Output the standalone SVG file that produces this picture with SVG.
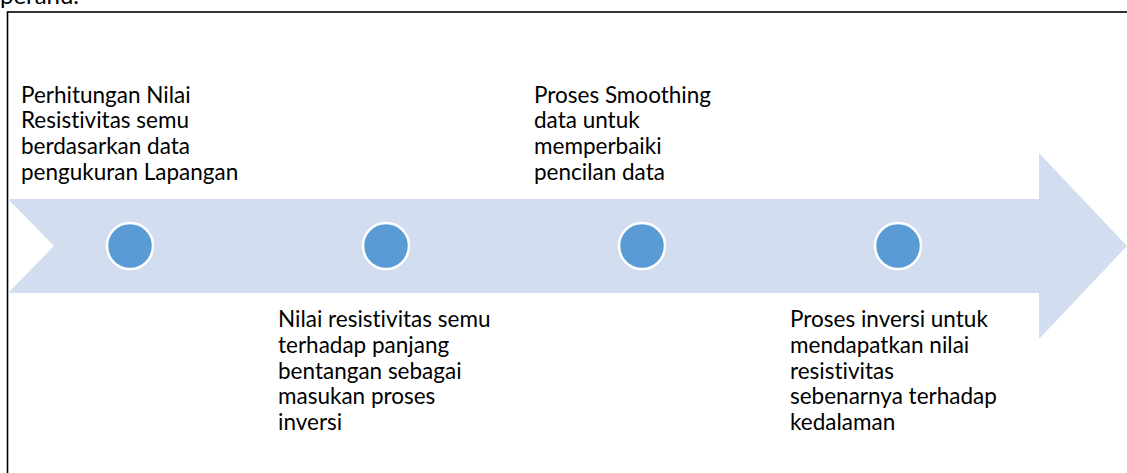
<svg xmlns="http://www.w3.org/2000/svg" width="1127" height="473" viewBox="0 0 1127 473">
<style>
.lbl{font-family:Lato,"Liberation Sans",sans-serif;font-size:22.5px;fill:#000;font-variant-ligatures:none}
.dot{fill:#5B9BD5;stroke:#fff;stroke-width:2.5}
</style>
<rect x="0" y="0" width="1127" height="473" fill="#fff"/>
<text class="lbl" x="0" y="4" style="font-size:24px">peranu.</text>
<rect x="7.5" y="12" width="1130" height="470" fill="none" stroke="#000" stroke-width="1.6"/>
<g id="arrow">
<polygon points="8,199 1039,199 1039,153 1127,246 1039,339 1039,293 8,293 54,246" fill="#D2DEEF"/>
</g>
<g id="connectors"></g>
<g id="node1">
<circle class="dot" cx="130" cy="246" r="23"/>
<text class="lbl"><tspan x="21" y="102.5">Perhitungan Nilai</tspan><tspan x="21" y="128.3">Resistivitas semu</tspan><tspan x="21" y="154">berdasarkan data</tspan><tspan x="21" y="180">pengukuran Lapangan</tspan></text>
</g>
<g id="node2">
<circle class="dot" cx="386" cy="246" r="23"/>
<text class="lbl"><tspan x="278" y="327">Nilai resistivitas semu</tspan><tspan x="278" y="353">terhadap panjang</tspan><tspan x="278" y="378.5">bentangan sebagai</tspan><tspan x="278" y="404">masukan proses</tspan><tspan x="278" y="430">inversi</tspan></text>
</g>
<g id="node3">
<circle class="dot" cx="642" cy="246" r="23"/>
<text class="lbl"><tspan x="534" y="102.5">Proses Smoothing</tspan><tspan x="534" y="128.3">data untuk</tspan><tspan x="534" y="154">memperbaiki</tspan><tspan x="534" y="180">pencilan data</tspan></text>
</g>
<g id="node4">
<circle class="dot" cx="898" cy="246" r="23"/>
<text class="lbl"><tspan x="790" y="327">Proses inversi untuk</tspan><tspan x="790" y="353">mendapatkan nilai</tspan><tspan x="790" y="378.5">resistivitas</tspan><tspan x="790" y="404">sebenarnya terhadap</tspan><tspan x="790" y="430">kedalaman</tspan></text>
</g>
</svg>
